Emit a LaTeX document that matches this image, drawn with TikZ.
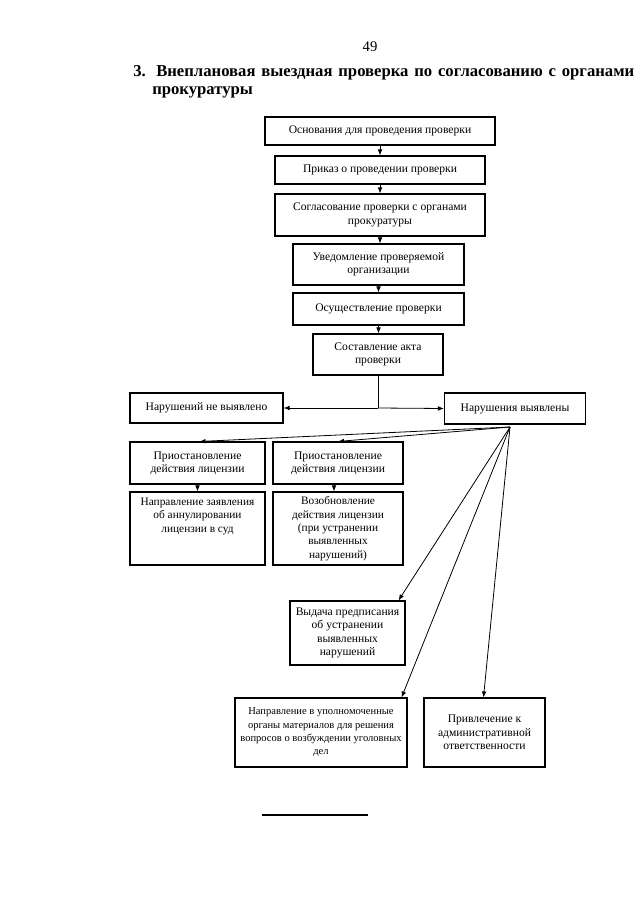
\documentclass[tikz,border=0pt]{standalone}
\usepackage{fontspec}
\setmainfont{Liberation Serif}
\usetikzlibrary{arrows.meta,calc}
\begin{document}
\begin{tikzpicture}[x=0.75pt,y=-0.75pt,
  box/.style={draw,line width=0.8pt,align=center,inner sep=1pt,font=\fontsize{8.7}{10}\selectfont},
  wh/.style n args={2}{minimum width=#1*0.75pt,minimum height=#2*0.75pt},
  arr/.style={line width=0.6pt,-{Latex[length=4.5pt,width=3.5pt]}},
  ln/.style={line width=0.6pt},
  ttl/.style={anchor=base west,inner sep=0pt,font=\fontsize{12.5}{14}\selectfont\bfseries}]
\useasboundingbox (0,0) rectangle (640,905);
\fill[white] (0,0) rectangle (640,905);

% page number and title
\node[anchor=base,inner sep=0pt,font=\fontsize{11}{13}\selectfont] (pn) at (370,52) {49};
\node[ttl] (t1) at (133,77) {\makebox[375.75pt][s]{3. Внеплановая выездная проверка по согласованию с органами}};
\node[ttl] (t2) at (152,95) {прокуратуры};

% main chain
\node[box,wh={230}{28}] (b1) at (380,131) {Основания для проведения проверки};
\node[box,wh={210}{28}] (b2) at (380,170) {Приказ о проведении проверки};
\node[box,wh={210}{42}] (b3) at (380,215) {Согласование проверки с органами\\прокуратуры};
\node[box,wh={171}{41}] (b4) at (378.5,264.5) {Уведомление проверяемой\\организации};
\node[box,wh={171}{32}] (b5) at (378.5,309) {Осуществление проверки};
\node[box,wh={130}{41}] (b6) at (378,354.5) {Составление акта\\проверки};

\node[box,wh={153}{30}] (b7) at (206.5,408) {Нарушений не выявлено};
\node[box,wh={141}{31}] (b8) at (515,408.5) {Нарушения выявлены};

\node[box,wh={135}{42}] (b9) at (197.5,463) {Приостановление\\действия лицензии};
\node[box,wh={130}{42}] (b10) at (338,463) {Приостановление\\действия лицензии};
\node[box,wh={135}{73},font=\fontsize{8.5}{10}\selectfont] (b11) at (197.5,528.5) {Направление заявления\\об аннулировании\\лицензии в суд\\~\\~};
\node[box,wh={130}{73},font=\fontsize{8.5}{10}\selectfont] (b12) at (338,528.5) {Возобновление\\действия лицензии\\(при устранении\\выявленных\\нарушений)};

\node[box,wh={115}{64}] (b13) at (347.5,633) {Выдача предписания\\об устранении\\выявленных\\нарушений};
\node[box,wh={172}{69},inner sep=0.5pt,font=\fontsize{7.9}{10}\selectfont] (b14) at (321,732.5) {Направление в уполномоченные\\органы материалов для решения\\вопросов о возбуждении уголовных\\дел};
\node[box,wh={121}{69}] (b15) at (484.5,732.5) {Привлечение к\\административной\\ответственности};

% chain arrows
\draw[arr] (b1.south) -- (b1.south |- b2.north);
\draw[arr] (b2.south) -- (b2.south |- b3.north);
\draw[arr] (b3.south) -- (b3.south |- b4.north);
\draw[arr] (b4.south) -- (b4.south |- b5.north);
\draw[arr] (b5.south) -- (b5.south |- b6.north);

% split
\coordinate (j) at (b6.south |- b7.east);
\draw[ln] (b6.south) -- (j);
\draw[arr] (j) -- (b7.east);
\draw[arr] (j) -- (b8.west);

% fan from "Нарушения выявлены"
\coordinate (f) at (510,427);
\draw[arr] (f) -- ($(b9.north)+(2,0)$);
\draw[arr] (f) -- (b10.north);
\draw[arr] (f) -- ($(b13.north east)+(-7,0)$);
\draw[arr] (f) -- ($(b14.north east)+(-6,0)$);
\draw[arr] (f) -- ($(b15.north)+(-1,0)$);

\draw[arr] (b9.south) -- (b9.south |- b11.north);
\draw[arr] ($(b10.south)+(-4,0)$) -- ($(b10.south |- b12.north)+(-4,0)$);

% footnote rule
\draw[line width=0.8pt] (262,815) -- (368,815);
\end{tikzpicture}
\end{document}
